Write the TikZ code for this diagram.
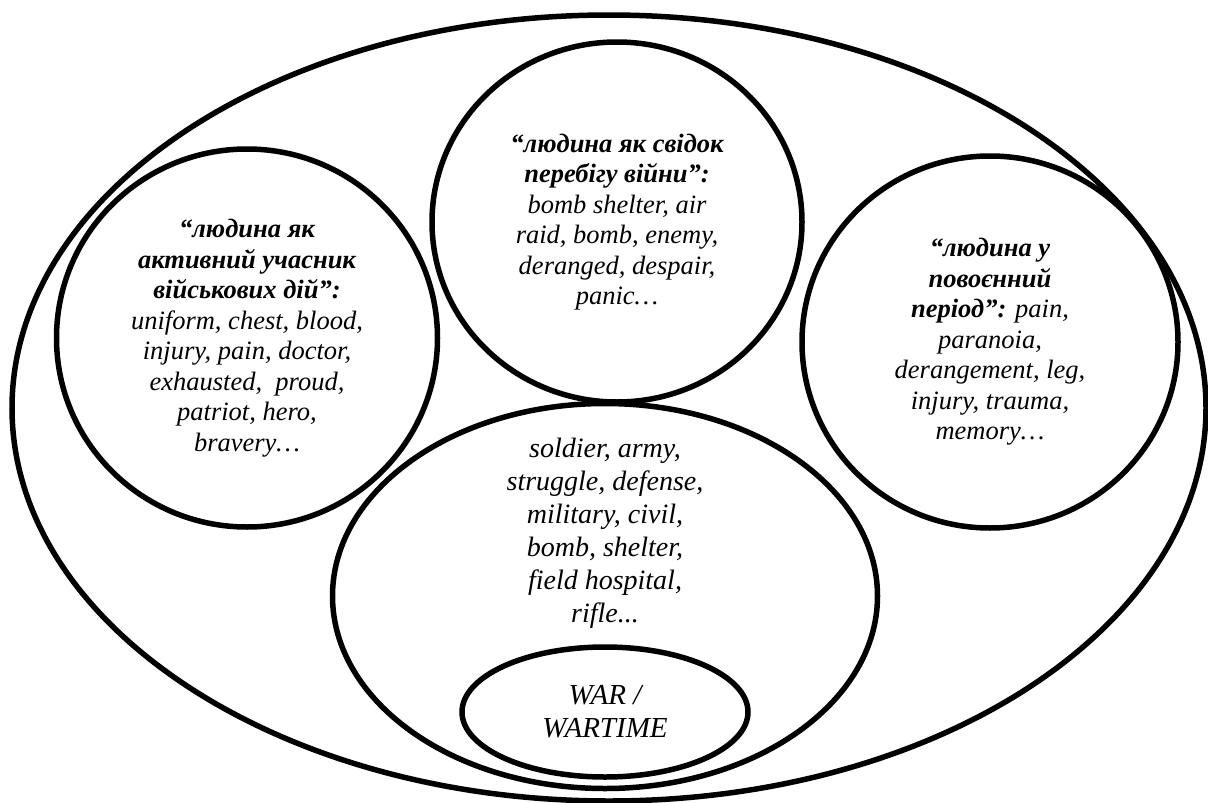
\documentclass[tikz,border=0pt]{standalone}
\usepackage{fontspec}
\setmainfont{Liberation Serif}
\usetikzlibrary{shapes.geometric, positioning}

\begin{document}
\begin{tikzpicture}[
    x=1pt, y=-1pt,
    zone/.style={ellipse, draw=black, line width=5.5pt, inner sep=0pt, align=center},
    small/.style={font=\fontsize{26.5}{30.5}\selectfont\itshape},
    large/.style={font=\fontsize{28}{33}\selectfont\itshape, align=center, inner sep=0pt}
]
\useasboundingbox (0,0) rectangle (1208,803);
\node[zone, minimum width=1194pt, minimum height=786pt] (scene) at (609,408) {};
\node[zone, small, minimum width=381pt, minimum height=378pt] (combat) at (247,338)
    {\textbf{“людина як}\\ \textbf{активний учасник}\\ \textbf{військових дій”:}\\
     uniform, chest, blood,\\ injury, pain, doctor,\\ exhausted,\ \ proud,\\ patriot, hero,\\ bravery…};
\node[zone, small, minimum width=370pt, minimum height=360pt] (witness) at (617,222)
    {\textbf{“людина як свідок}\\ \textbf{перебігу війни”:}\\ bomb shelter, air\\
     raid, bomb, enemy,\\ deranged, despair,\\ panic…};
\node[zone, small, minimum width=376pt, minimum height=372pt] (postwar) at (990,342)
    {\textbf{“людина у}\\ \textbf{повоєнний}\\ \textbf{період”:} pain,\\ paranoia,\\
     derangement, leg,\\ injury, trauma,\\ memory…};
\node[zone, minimum width=545pt, minimum height=385pt] (lexicon) at (605,596) {};
\node[large] (lexwords) at (605,533)
    {soldier, army,\\ struggle, defense,\\ military, civil,\\ bomb, shelter,\\ field hospital,\\ rifle...};
\node[zone, font=\fontsize{29}{33}\selectfont\itshape, minimum width=286pt, minimum height=130pt] (core) at (605,712)
    {WAR /\\ WARTIME};
\end{tikzpicture}
\end{document}
